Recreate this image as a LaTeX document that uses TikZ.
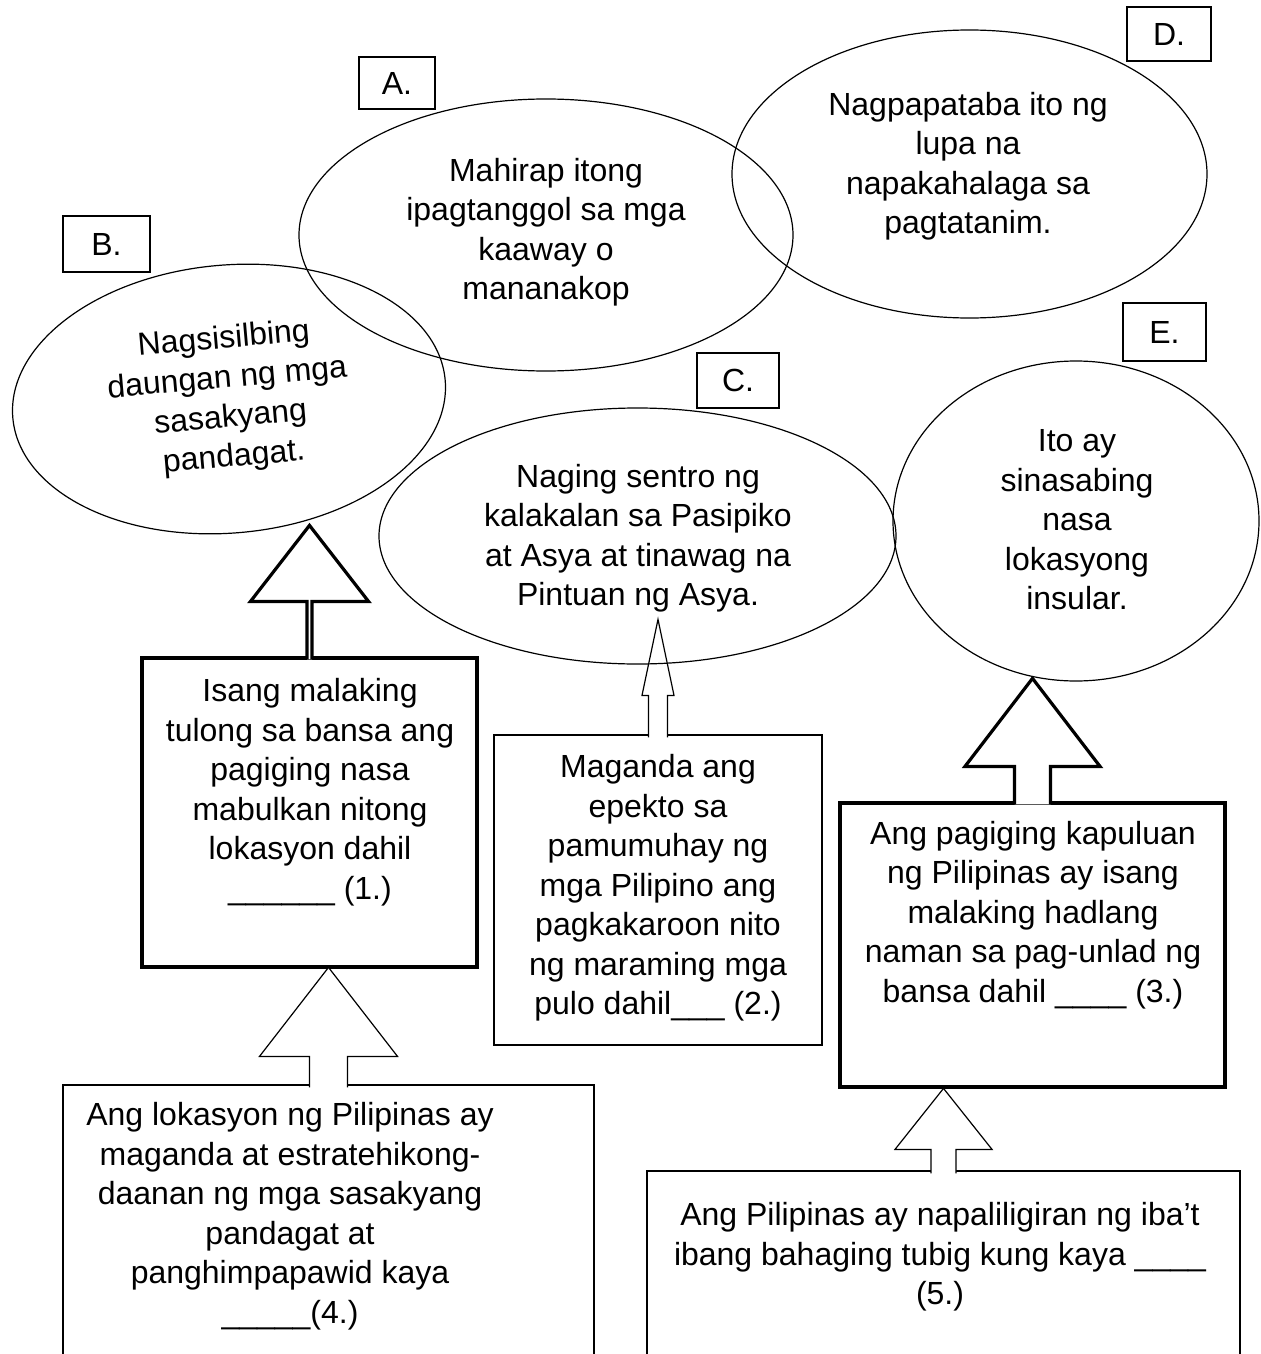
\documentclass[tikz,border=0pt]{standalone}
\usepackage{fontspec}
\setmainfont{Liberation Sans}
\usetikzlibrary{shapes.geometric,calc}

\newcommand{\px}{0.5pt}
\tikzset{
  lbl/.style={draw,line width=0.6pt,inner sep=0pt},
  bubble/.style={ellipse,draw,line width=0.6pt,inner sep=0pt},
  card/.style={rectangle,draw,line width=0.6pt,inner sep=0pt},
  thickcard/.style={card,line width=1.6pt},
  txt/.style={align=center,inner sep=0pt},
  barrow/.style={draw,fill=white,line width=0.6pt,line join=miter}
}

% freccia a blocco verso l'alto: base, mezzo gambo, gambo, mezza testa, testa
\newcommand{\uparr}[6][]{%
  \draw[barrow,#1] ($(#2)+(-#3,3)$) -- ++(0,-#4-3) -- ++(#3-#5,0) -- ++(#5,-#6)
    -- ++(#5,#6) -- ++(#3-#5,0) -- ++(0,#4+3);
}

\begin{document}
\begin{tikzpicture}[x=0.5pt,y=-0.5pt,font=\fontsize{16}{19.75}\selectfont]
\useasboundingbox (0,0) rectangle (1260,1354);
\clip (0,0) rectangle (1260,1354);

%Riquadri
\node[thickcard,minimum width=335*\px,minimum height=309*\px] (box1) at (309.5,812.5) {};
\node[card,minimum width=328*\px,minimum height=310*\px] (box2) at (658,890) {};
\node[thickcard,minimum width=385*\px,minimum height=284*\px] (box3) at (1032.5,945) {};
\node[card,minimum width=531*\px,minimum height=330*\px] (box4) at (328.5,1250) {};
\node[card,minimum width=593*\px,minimum height=240*\px] (box5) at (943.5,1291) {};

%Frecce
\uparr{box4.north}{19}{28}{69}{89}
\uparr[line width=1.6pt]{box1.north}{2.5}{55}{59}{76}
\uparr{box2.north}{9.5}{39}{16}{76}
\uparr[line width=1.6pt]{box3.north}{18}{35}{67.5}{88}
\uparr{box5.north}{12.5}{21}{48.5}{61}

%Ellissi
\node[bubble,minimum width=494*\px,minimum height=272*\px] (ellA) at (546,235) {};
\node[bubble,minimum width=475*\px,minimum height=288*\px] (ellD) at (969.5,174) {};
\node[bubble,rotate=5,align=center,minimum width=434*\px,minimum height=268*\px] (ellB) at (229,399)
  {Nagsisilbing\\daungan ng mga\\sasakyang\\pandagat.};
\node[bubble,minimum width=517*\px,minimum height=256*\px] (ellC) at (637.5,536) {};
\node[bubble,minimum width=366*\px,minimum height=320*\px] (ellE) at (1076,521) {};

%Etichette
\node[lbl,minimum width=76*\px,minimum height=52*\px] (labA) at (397,83) {A.};
\node[lbl,minimum width=87*\px,minimum height=56*\px] (labB) at (106.5,244) {B.};
\node[lbl,minimum width=82*\px,minimum height=55*\px] (labC) at (738,380.5) {C.};
\node[lbl,minimum width=84*\px,minimum height=54*\px] (labD) at (1169,34) {D.};
\node[lbl,minimum width=83*\px,minimum height=58*\px] (labE) at (1164.5,332) {E.};

%Testi
\node[txt] (tA) at (546,232) {Mahirap itong\\ipagtanggol sa mga\\kaaway o\\mananakop};
\node[txt] (tD) at (968,166) {Nagpapataba ito ng\\lupa na\\napakahalaga sa\\pagtatanim.};
\node[txt] (tC) at (638,538) {Naging sentro ng\\kalakalan sa Pasipiko\\at Asya at tinawag na\\Pintuan ng Asya.};
\node[txt] (tE) at (1077,520) {Ito ay\\sinasabing\\nasa\\lokasyong\\insular.};
\node[txt] (t1) at (310,792) {Isang malaking\\tulong sa bansa ang\\pagiging nasa\\mabulkan nitong\\lokasyon dahil\\\_\_\_\_\_\_ (1.)};
\node[txt] (t2) at (658,888) {Maganda ang\\epekto sa\\pamumuhay ng\\mga Pilipino ang\\pagkakaroon nito\\ng maraming mga\\pulo dahil\_\_\_ (2.)};
\node[txt] (t3) at (1033,915) {Ang pagiging kapuluan\\ng Pilipinas ay isang\\malaking hadlang\\naman sa pag-unlad ng\\bansa dahil \_\_\_\_ (3.)};
\node[txt] (t4) at (290,1216) {Ang lokasyon ng Pilipinas ay\\maganda at estratehikong-\\daanan ng mga sasakyang\\pandagat at\\panghimpapawid kaya\\\_\_\_\_\_(4.)};
\node[txt] (t5) at (940,1257) {Ang Pilipinas ay napaliligiran ng iba’t\\ibang bahaging tubig kung kaya \_\_\_\_\\(5.)};

\end{tikzpicture}
\end{document}
